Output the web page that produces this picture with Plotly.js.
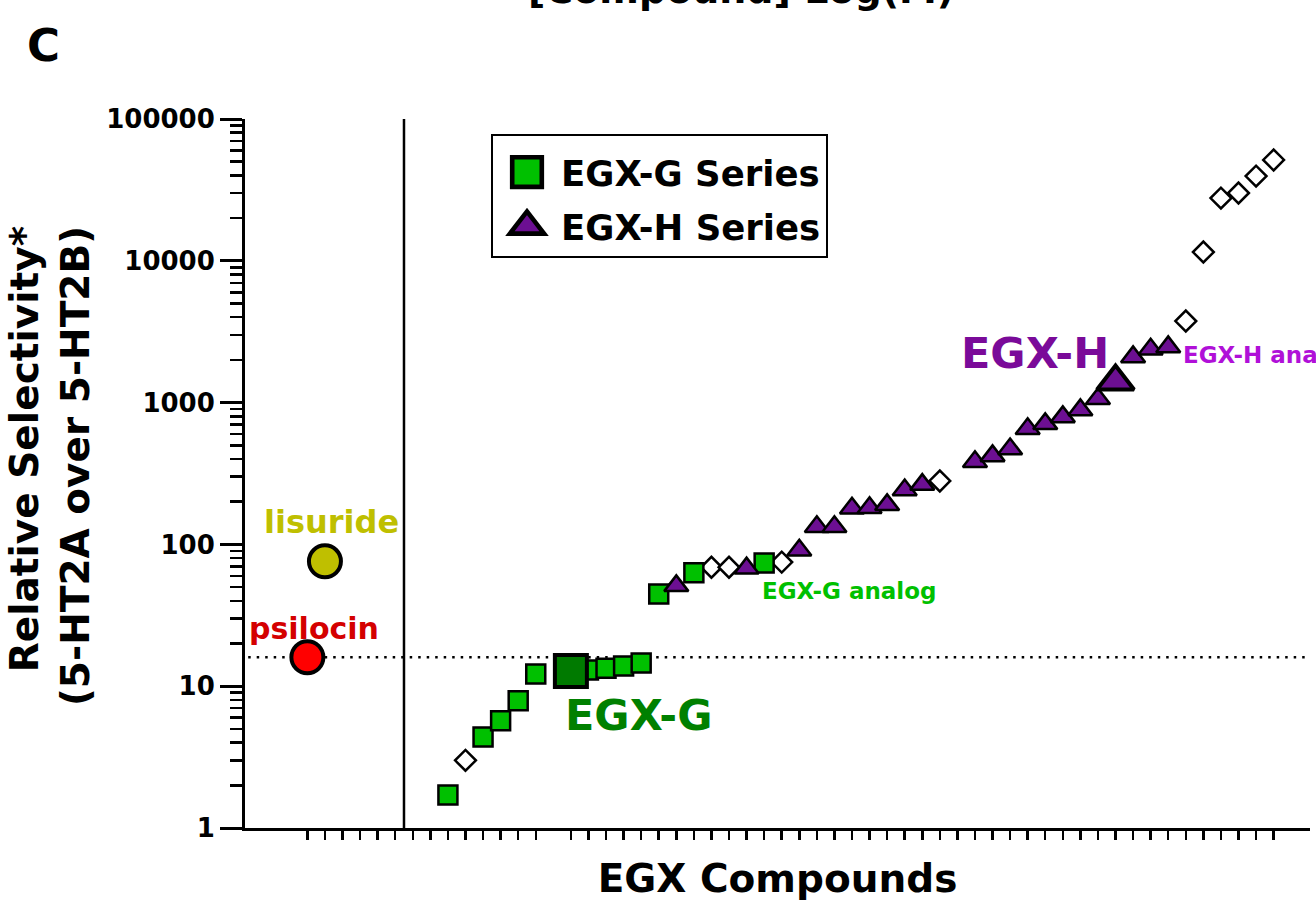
<!DOCTYPE html>
<html>
<head>
<meta charset="utf-8">
<script src="https://cdn.plot.ly/plotly-3.0.1.min.js"></script>
<style>html,body{margin:0;padding:0;background:#fff;}#chart{width:1316px;height:906px;}</style>
</head>
<body>
<div id="chart"></div>
<script>
// ---- data (x = compound slot index, y = relative selectivity) ----
const refNames = ['psilocin', 'lisuride'];
const refIdx = [0, 1];
const refVals = [16.0, 76];

const gIdx = [8, 10, 11, 12, 13, 16, 17, 18, 19, 20, 22, 26];
const gVals = [1.71, 4.38, 5.7, 7.9, 12.2, 13.0, 13.4, 13.9, 14.6, 44.7, 63, 74];
const gLeadIdx = [15];
const gLeadVals = [12.8];

const hIdx = [21, 25, 28, 29, 30, 31, 32, 33, 34, 35, 38, 39, 40, 41, 42, 43, 44, 45, 47, 48, 49];
const hVals = [51, 68, 91, 133, 133, 180, 181, 190, 242, 264, 382, 421, 471, 653, 708, 793, 888, 1063, 2100, 2380, 2470];
const hLeadIdx = [46];
const hLeadVals = [1410];

const otherIdx = [9, 23, 24, 27, 36, 50, 51, 52, 53, 54, 55];
const otherVals = [3.0, 69, 69, 75, 280, 3762, 11530, 27700, 30070, 39600, 51400];

const yTickVals = [1, 10, 100, 1000, 10000, 100000];
const yTickText = ['1', '10', '100', '1000', '10000', '100000'];
const skippedSlot = 14;
const lastSlot = 55;

const xTickVals = [];
for (let i = 0; i <= lastSlot; i++) if (i !== skippedSlot) xTickVals.push(i);

const FONT = 'DejaVu Sans';
const GREEN = '#00c000', DKGREEN = '#007a00', PURPLE = '#6c0f92';

const traces = [
  { x: otherIdx, y: otherVals, mode: 'markers', type: 'scatter', showlegend: false, name: 'other',
    marker: { symbol: 'diamond', size: 16, color: '#ffffff', line: { color: '#000', width: 2.5 } } },
  { x: gIdx, y: gVals, mode: 'markers', type: 'scatter', name: 'EGX-G Series', legendgroup: 'g',
    marker: { symbol: 'square', size: 19, color: GREEN, line: { color: '#000', width: 2.5 } } },
  { x: hIdx, y: hVals, mode: 'markers', type: 'scatter', name: 'EGX-H Series', legendgroup: 'h',
    marker: { symbol: 'triangle-up', size: 21, color: PURPLE, line: { color: '#000', width: 2.5 } } },
  { x: gLeadIdx, y: gLeadVals, mode: 'markers', type: 'scatter', showlegend: false, name: 'EGX-G',
    marker: { symbol: 'square', size: 32, color: DKGREEN, line: { color: '#000', width: 4 } } },
  { x: hLeadIdx, y: hLeadVals, mode: 'markers', type: 'scatter', showlegend: false, name: 'EGX-H',
    marker: { symbol: 'triangle-up', size: 32, color: PURPLE, line: { color: '#000', width: 4 } } },
  { x: refIdx, y: refVals, mode: 'markers', type: 'scatter', showlegend: false, text: refNames,
    marker: { symbol: 'circle', size: 32, color: ['#ff0000', '#bfbf00'], line: { color: '#000', width: 4 } } }
];

const L = 245, R = 1310, T = 119, B = 828;
const px2paperX = p => (p - L) / (R - L);
const px2paperY = p => (B - p) / (B - T);

const layout = {
  width: 1316, height: 906,
  margin: { l: L, r: 1316 - R, t: T, b: 906 - B },
  paper_bgcolor: '#fff', plot_bgcolor: '#fff',
  font: { family: FONT, weight: 'bold', color: '#000', size: 26 },
  showlegend: true,
  legend: {
    x: px2paperX(491), y: px2paperY(134), xanchor: 'left', yanchor: 'top',
    bgcolor: '#fff', bordercolor: '#000', borderwidth: 2,
    font: { family: FONT, weight: 'bold', size: 35.5, color: '#000' },
    title: { text: '\u200b', font: { size: 5 } },
    itemwidth: 58, tracegroupgap: 5, itemsizing: 'trace'
  },
  xaxis: {
    range: [-3.55, 57.07], showgrid: false, zeroline: false,
    showline: true, linecolor: '#000', linewidth: 3,
    tickmode: 'array', tickvals: xTickVals, showticklabels: false,
    ticks: 'outside', ticklen: 9, tickwidth: 2.5, tickcolor: '#000',
    title: { text: 'EGX Compounds', font: { family: FONT, weight: 'bold', size: 39, color: '#000' }, standoff: 26 }
  },
  yaxis: {
    type: 'log', range: [0, 5], showgrid: false, zeroline: false,
    showline: true, linecolor: '#000', linewidth: 3,
    tickmode: 'array', tickvals: yTickVals, ticktext: yTickText,
    ticks: 'outside', ticklen: 22, tickwidth: 3, tickcolor: '#000',
    tickfont: { family: FONT, weight: 'bold', size: 26, color: '#000' },
    minor: { ticks: 'outside', ticklen: 12, tickwidth: 2.5, tickcolor: '#000', dtick: 'D1', showgrid: false }
  },
  shapes: [
    { type: 'line', xref: 'x', yref: 'paper', x0: 5.5, x1: 5.5, y0: 0, y1: 1, line: { color: '#000', width: 2.5 } },
    { type: 'line', xref: 'paper', yref: 'y', x0: 0.003, x1: 1, y0: refVals[0], y1: refVals[0],
      line: { color: '#000', width: 2.5, dash: '2.5px,6px' }, layer: 'below' }
  ],
  annotations: [
    { text: 'Relative Selectivity*<br>(5-HT2A over 5-HT2B)', xref: 'paper', yref: 'paper',
      x: px2paperX(50), y: px2paperY(466), xanchor: 'center', yanchor: 'middle', textangle: -90, align: 'right',
      showarrow: false, font: { family: FONT, weight: 'bold', size: 39, color: '#000' } },
    { text: 'C', xref: 'paper', yref: 'paper', x: px2paperX(43), y: px2paperY(46), xanchor: 'center', yanchor: 'middle', showarrow: false,
      font: { family: FONT, weight: 'bold', size: 45, color: '#000' } },
    { text: '[Compound] Log(M)', xref: 'paper', yref: 'paper', x: px2paperX(741), y: px2paperY(-34), xanchor: 'center', yanchor: 'top', showarrow: false,
      font: { family: FONT, weight: 'bold', size: 38, color: '#000' } },
    { text: 'psilocin', xref: 'x', yref: 'y', x: 0.38, y: 1.41, showarrow: false,
      font: { family: FONT, weight: 'bold', size: 30, color: '#d40000' } },
    { text: 'lisuride', xref: 'x', yref: 'y', x: 1.35, y: 2.158, showarrow: false,
      font: { family: FONT, weight: 'bold', size: 32, color: '#bfbf00' } },
    { text: 'EGX-G', xref: 'x', yref: 'y', x: 18.82, y: 0.797, showarrow: false,
      font: { family: FONT, weight: 'bold', size: 43, color: '#008000' } },
    { text: 'EGX-G analog', xref: 'x', yref: 'y', x: 30.84, y: 1.671, showarrow: false,
      font: { family: FONT, weight: 'bold', size: 23, color: '#00c000' } },
    { text: 'EGX-H', xref: 'x', yref: 'y', x: 41.41, y: 3.35, showarrow: false,
      font: { family: FONT, weight: 'bold', size: 43, color: '#7a0a99' } },
    { text: 'EGX-H analog', xref: 'x', yref: 'y', x: 49.72, y: 3.336, xanchor: 'left', showarrow: false,
      font: { family: FONT, weight: 'bold', size: 23, color: '#b010d8' } }
  ],
  hovermode: false
};

Plotly.newPlot('chart', traces, layout, { staticPlot: true, displayModeBar: false }).then(function (gd) {
  // enlarge the legend symbols to match the large markers of the original legend
  gd.querySelectorAll('.legend .legendpoints path.scatterpts').forEach(function (p) {
    p.setAttribute('transform', 'translate(34,0) scale(1.85)');
  });
});
</script>
</body>
</html>
